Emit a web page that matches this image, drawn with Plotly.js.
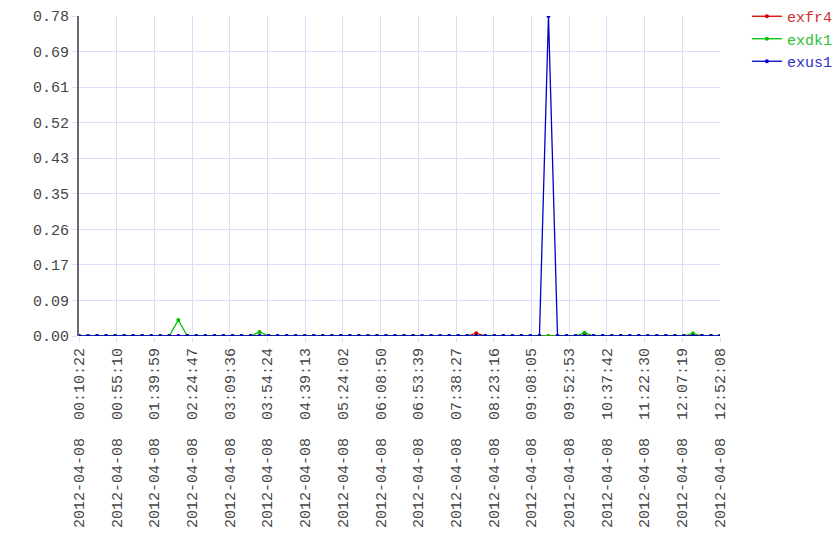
<!DOCTYPE html>
<html>
<head>
<meta charset="utf-8">
<script src="https://cdn.plot.ly/plotly-3.0.1.min.js"></script>
<style>html,body{margin:0;padding:0;background:#fff;}#chart{width:840px;height:560px;}</style>
</head>
<body>
<div id="chart"></div>
<script>
const times = [
"2012-04-08 00:10:22","2012-04-08 00:21:06","2012-04-08 00:31:49","2012-04-08 00:42:33","2012-04-08 00:53:17",
"2012-04-08 01:04:01","2012-04-08 01:14:44","2012-04-08 01:25:28","2012-04-08 01:36:12","2012-04-08 01:46:56",
"2012-04-08 01:57:39","2012-04-08 02:08:23","2012-04-08 02:19:07","2012-04-08 02:29:51","2012-04-08 02:40:34",
"2012-04-08 02:51:18","2012-04-08 03:02:02","2012-04-08 03:12:46","2012-04-08 03:23:29","2012-04-08 03:34:13",
"2012-04-08 03:44:57","2012-04-08 03:55:41","2012-04-08 04:06:24","2012-04-08 04:17:08","2012-04-08 04:27:52",
"2012-04-08 04:38:36","2012-04-08 04:49:19","2012-04-08 05:00:03","2012-04-08 05:10:47","2012-04-08 05:21:31",
"2012-04-08 05:32:14","2012-04-08 05:42:58","2012-04-08 05:53:42","2012-04-08 06:04:26","2012-04-08 06:15:09",
"2012-04-08 06:25:53","2012-04-08 06:36:37","2012-04-08 06:47:21","2012-04-08 06:58:04","2012-04-08 07:08:48",
"2012-04-08 07:19:32","2012-04-08 07:30:16","2012-04-08 07:40:59","2012-04-08 07:51:43","2012-04-08 08:02:27",
"2012-04-08 08:13:11","2012-04-08 08:23:54","2012-04-08 08:34:38","2012-04-08 08:45:22","2012-04-08 08:56:06",
"2012-04-08 09:06:49","2012-04-08 09:17:33","2012-04-08 09:28:17","2012-04-08 09:39:01","2012-04-08 09:49:44",
"2012-04-08 10:00:28","2012-04-08 10:11:12","2012-04-08 10:21:56","2012-04-08 10:32:39","2012-04-08 10:43:23",
"2012-04-08 10:54:07","2012-04-08 11:04:51","2012-04-08 11:15:34","2012-04-08 11:26:18","2012-04-08 11:37:02",
"2012-04-08 11:47:45","2012-04-08 11:58:29","2012-04-08 12:09:13","2012-04-08 12:19:57","2012-04-08 12:30:40",
"2012-04-08 12:41:24","2012-04-08 12:52:08"
];

const exfr4 = [
0,0,0,0,0,0,0,0,0,0,
0,0,0,0,0,0,0,0,0,0,
0,0,0,0,0,0,0,0,0,0,
0,0,0,0,0,0,0,0,0,0,
0,0,0,0,0.007,0,0,0,0,0,
0,0,0,0,0,0,0.002,0,0,0,
0,0,0,0,0,0,0,0,0.002,0,
0,0
];
const exdk1 = [
0,0,0,0,0,0,0,0,0,0,
0,0.039,0,0,0,0,0,0,0,0,
0.010,0,0,0,0,0,0,0,0,0,
0,0,0,0,0,0,0,0,0,0,
0,0,0,0,0,0,0,0,0,0,
0,0,0,0,0,0,0.008,0,0,0,
0,0,0,0,0,0,0,0,0.0065,0,
0,0
];
const exus1 = [
0,0,0,0,0,0,0,0,0,0,
0,0,0,0,0,0,0,0,0,0,
0,0,0,0,0,0,0,0,0,0,
0,0,0,0,0,0,0,0,0,0,
0,0,0,0,0,0,0,0,0,0,
0,0,0.78,0,0,0,0,0,0,0,
0,0,0,0,0,0,0,0,0,0,
0,0
];

const seriesNames = ["exfr4","exdk1","exus1"];
const seriesColors = ["#d40000","#00c000","#0000c8"];
const legendTextColors = ["#d03030","#30c030","#3030c8"];

const xTickLabels = [
"2012-04-08 00:10:22","2012-04-08 00:55:10","2012-04-08 01:39:59","2012-04-08 02:24:47",
"2012-04-08 03:09:36","2012-04-08 03:54:24","2012-04-08 04:39:13","2012-04-08 05:24:02",
"2012-04-08 06:08:50","2012-04-08 06:53:39","2012-04-08 07:38:27","2012-04-08 08:23:16",
"2012-04-08 09:08:05","2012-04-08 09:52:53","2012-04-08 10:37:42","2012-04-08 11:22:30",
"2012-04-08 12:07:19","2012-04-08 12:52:08"
];
const yTickLabels = ["0.00","0.09","0.17","0.26","0.35","0.43","0.52","0.61","0.69","0.78"];

const ymax = Math.max(...exus1, ...exdk1, ...exfr4);
const yTickVals = yTickLabels.map((_, i) => i * ymax / (yTickLabels.length - 1));

const FONT = "Liberation Mono, DejaVu Sans Mono, monospace";
const allSeries = [exfr4, exdk1, exus1];
const traces = allSeries.map((ys, k) => ({
  x: times,
  y: ys,
  type: "scatter",
  mode: "lines+markers",
  name: '<span style="color:' + legendTextColors[k] + '">' + seriesNames[k] + '</span>',
  line: {color: seriesColors[k], width: 1.3},
  marker: {color: seriesColors[k], size: 4}
}));

const layout = {
  width: 840, height: 560,
  margin: {l: 79, r: 120, t: 16, b: 224, pad: 0, autoexpand: false},
  paper_bgcolor: "#fff", plot_bgcolor: "#fff",
  showlegend: true,
  legend: {x: 1.042, xanchor: "left", y: 1.05, yanchor: "top",
           font: {family: FONT, size: 15, color: "#333"}, bgcolor: "rgba(0,0,0,0)",
           itemwidth: 30, tracegroupgap: 0},
  xaxis: {
    type: "date",
    automargin: false,
    range: [times[0], times[times.length - 1]],
    tickmode: "array",
    tickvals: xTickLabels,
    ticktext: xTickLabels.map(s => s.replace(" ", "&nbsp;&nbsp;")),
    tickangle: -90,
    tickfont: {family: FONT, size: 15, color: "#444"},
    showgrid: true, gridcolor: "#dcdcfc", gridwidth: 1,
    ticks: "outside", ticklen: 5, tickcolor: "#dcdcfc",
    zeroline: false, showline: false
  },
  yaxis: {
    automargin: false,
    range: [0, ymax],
    tickmode: "array",
    tickvals: yTickVals,
    ticktext: yTickLabels,
    tickfont: {family: FONT, size: 15, color: "#444"},
    showgrid: true, gridcolor: "#dcdcfc", gridwidth: 1,
    ticks: "outside", ticklen: 5, tickcolor: "#dcdcfc",
    zeroline: false, showline: true, linecolor: "#6a6a72", linewidth: 2
  }
};

Plotly.newPlot("chart", traces, layout, {staticPlot: true, displayModeBar: false});
</script>
</body>
</html>
